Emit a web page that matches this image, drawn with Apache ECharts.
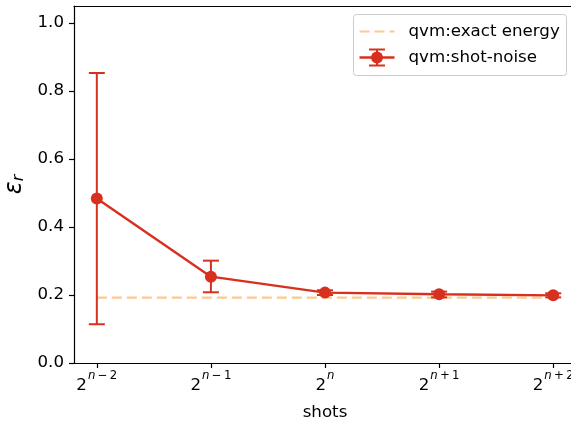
<!DOCTYPE html>
<html>
<head>
<meta charset="utf-8">
<script src="https://cdn.jsdelivr.net/npm/echarts@6/dist/echarts.min.js"></script>
<style>
  html, body { margin: 0; padding: 0; background: #fff; }
  #chart { width: 571px; height: 421px; }
</style>
</head>
<body>
<div id="chart"></div>
<script>
// Shot positions and their exponent offsets (2^(n + offset))
const shotPositions = [0, 1, 2, 3, 4];
const shotOffsets = ['\u2009\u2212\u20092', '\u2009\u2212\u20091', '', '\u2009+\u20091', '\u2009+\u20092'];

// Relative error with shot noise: mean and error bar limits
const shotNoiseMean = [0.484, 0.254, 0.207, 0.202, 0.199];
const shotNoiseLow  = [0.114, 0.208, 0.200, 0.193, 0.193];
const shotNoiseHigh = [0.853, 0.301, 0.214, 0.210, 0.205];

// Exact-energy reference level
const exactEnergy = [0.192, 0.192, 0.192, 0.192, 0.192];

const yTicks = [0, 0.2, 0.4, 0.6, 0.8, 1.0];

const RED = '#d7301f';
const ORANGE = '#fdca8e';
const FONT = 'DejaVu Sans';
const FS = 16.67;

const chart = echarts.init(document.getElementById('chart'), null, { renderer: 'canvas' });

const errorData = shotPositions.map((x, i) => [x, shotNoiseLow[i], shotNoiseHigh[i]]);

chart.setOption({
  animation: false,
  backgroundColor: '#fff',
  textStyle: { fontFamily: FONT },
  grid: {
    left: 74, top: 6, width: 502, height: 357,
    outerBoundsMode: 'none',
    containLabel: false,
    show: false
  },
  xAxis: [
    {
      type: 'value',
      min: -0.2, max: 4.2,
      name: 'shots',
      nameLocation: 'middle',
      nameGap: 41,
      nameTextStyle: { fontFamily: FONT, fontSize: FS, color: '#000' },
      splitLine: { show: false },
      axisLine: { show: true, onZero: false, lineStyle: { color: '#000', width: 1.2 } },
      axisTick: { show: true, customValues: shotPositions, length: 5, lineStyle: { color: '#000', width: 1.2 } },
      axisLabel: {
        customValues: shotPositions,
        margin: 7,
        formatter: v => {
          const off = shotOffsets[Math.round(v)];
          return '{b|2}{n|n}' + (off ? '{s|' + off + '}' : '');
        },
        rich: {
          b: { fontFamily: FONT, fontSize: FS, color: '#000', lineHeight: 24, verticalAlign: 'bottom' },
          n: { fontFamily: FONT, fontSize: 11.7, fontStyle: 'italic', color: '#000', lineHeight: 16, verticalAlign: 'top', padding: [0, 0, 0, 1] },
          s: { fontFamily: FONT, fontSize: 11.7, color: '#000', lineHeight: 16, verticalAlign: 'top' }
        }
      }
    },
    {
      // top frame line
      type: 'value',
      position: 'top',
      min: -0.2, max: 4.2,
      splitLine: { show: false },
      axisLine: { show: true, onZero: false, lineStyle: { color: '#000', width: 1.2 } },
      axisTick: { show: false },
      axisLabel: { show: false }
    }
  ],
  yAxis: {
    type: 'value',
    min: 0, max: 1.05,
    name: '{e|\u03b5}{r|r}',
    nameLocation: 'middle',
    nameRotate: 90,
    nameGap: 45,
    nameTextStyle: {
      rich: {
        e: { fontFamily: FONT, fontSize: 24, fontStyle: 'italic', color: '#000', verticalAlign: 'bottom', lineHeight: 28 },
        r: { fontFamily: FONT, fontSize: 16, fontStyle: 'italic', color: '#000', verticalAlign: 'bottom', lineHeight: 20 }
      }
    },
    splitLine: { show: false },
    axisLine: { show: true, onZero: false, lineStyle: { color: '#000', width: 1.2 } },
    axisTick: { show: true, customValues: yTicks, length: 5, lineStyle: { color: '#000', width: 1.2 } },
    axisLabel: {
      customValues: yTicks,
      margin: 10,
      fontFamily: FONT, fontSize: FS, color: '#000',
      formatter: v => v.toFixed(1)
    }
  },
  series: [
    {
      name: 'qvm:exact energy',
      type: 'line',
      data: shotPositions.map((x, i) => [x, exactEnergy[i]]),
      symbol: 'none',
      lineStyle: { color: ORANGE, width: 2.2, type: [10, 5] },
      z: 1
    },
    {
      name: 'qvm:shot-noise errorbars',
      type: 'custom',
      data: errorData,
      z: 3,
      renderItem: (params, api) => {
        const x = api.value(0);
        const lo = api.coord([x, api.value(1)]);
        const hi = api.coord([x, api.value(2)]);
        const half = 8;
        const style = { stroke: RED, lineWidth: 2, fill: null };
        return {
          type: 'group',
          children: [
            { type: 'line', shape: { x1: lo[0], y1: lo[1], x2: hi[0], y2: hi[1] }, style },
            { type: 'line', shape: { x1: lo[0] - half, y1: lo[1], x2: lo[0] + half, y2: lo[1] }, style },
            { type: 'line', shape: { x1: hi[0] - half, y1: hi[1], x2: hi[0] + half, y2: hi[1] }, style }
          ]
        };
      }
    },
    {
      name: 'qvm:shot-noise',
      type: 'line',
      data: shotPositions.map((x, i) => [x, shotNoiseMean[i]]),
      symbol: 'circle',
      symbolSize: 12,
      itemStyle: { color: RED, borderWidth: 0 },
      lineStyle: { color: RED, width: 2.4 },
      z: 4
    }
  ],
  graphic: [
    {
      type: 'group',
      left: 353, top: 14,
      children: [
        { type: 'rect', shape: { x: 0, y: 0, width: 213, height: 61, r: 3 },
          style: { fill: 'rgba(255,255,255,0.8)', stroke: '#cccccc', lineWidth: 1 } },
        { type: 'line', shape: { x1: 6, y1: 17, x2: 41, y2: 17 },
          style: { stroke: ORANGE, lineWidth: 2.2, lineDash: [10, 5] } },
        { type: 'text', x: 55, y: 17,
          style: { text: 'qvm:exact energy', fontFamily: FONT, fontSize: FS, fill: '#000', verticalAlign: 'middle' } },
        { type: 'line', shape: { x1: 6, y1: 43, x2: 41, y2: 43 },
          style: { stroke: RED, lineWidth: 2.4 } },
        { type: 'line', shape: { x1: 23.5, y1: 35, x2: 23.5, y2: 51 },
          style: { stroke: RED, lineWidth: 2 } },
        { type: 'line', shape: { x1: 15.5, y1: 35, x2: 31.5, y2: 35 },
          style: { stroke: RED, lineWidth: 2 } },
        { type: 'line', shape: { x1: 15.5, y1: 51, x2: 31.5, y2: 51 },
          style: { stroke: RED, lineWidth: 2 } },
        { type: 'circle', shape: { cx: 23.5, cy: 43, r: 6 }, style: { fill: RED } },
        { type: 'text', x: 55, y: 43,
          style: { text: 'qvm:shot-noise', fontFamily: FONT, fontSize: FS, fill: '#000', verticalAlign: 'middle' } }
      ]
    }
  ]
});
</script>
</body>
</html>
